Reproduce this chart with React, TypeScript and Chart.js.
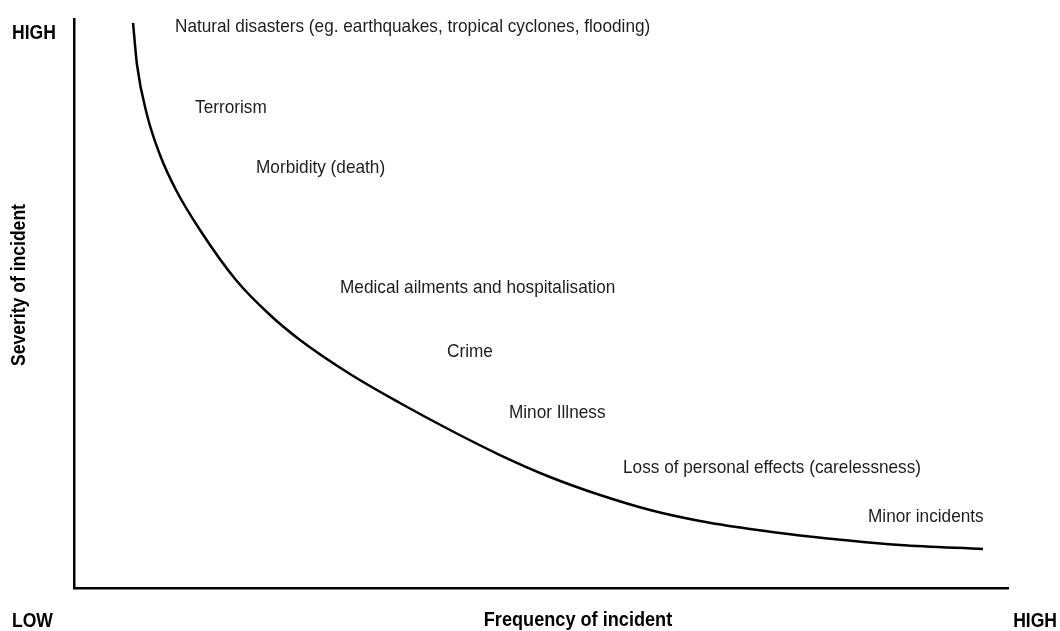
import React, { useEffect, useRef } from "react";
import { Chart, registerables } from "chart.js";

Chart.register(...registerables);

// Curve: frequency (x, 0-100) vs severity (y, 0-100)
const curveX = [6.32, 6.75, 7.82, 9.21, 10.92, 13.49, 17.34, 20.99, 24.2, 29.55, 34.9, 40.26, 45.61, 50.96, 56.32, 61.67, 67.02, 72.38, 77.73, 88.44, 97.32];
const curveY = [99.3, 91.92, 83.13, 76.1, 69.95, 62.92, 54.13, 47.98, 43.59, 37.61, 32.51, 27.77, 23.37, 19.51, 16.34, 13.71, 11.78, 10.37, 9.23, 7.56, 6.85];

// Annotations (data coordinates: left edge x, baseline y)
const labelText = [
  "Natural disasters (eg. earthquakes, tropical cyclones, flooding)",
  "Terrorism",
  "Morbidity (death)",
  "Medical ailments and hospitalisation",
  "Crime",
  "Minor Illness",
  "Loss of personal effects (carelessness)",
  "Minor incidents",
];
const labelX = [10.81, 12.96, 19.49, 28.48, 39.94, 46.57, 58.78, 85.01];
const labelY = [97.72, 83.48, 72.93, 51.85, 40.6, 29.88, 20.21, 11.6];

const xTitle = "Frequency of incident";
const yTitle = "Severity of incident";
const lowLabel = "LOW";
const highLabel = "HIGH";

const FONT = '"Liberation Sans", Arial, sans-serif';
const SQUEEZE = 0.9;

function drawText(ctx: CanvasRenderingContext2D, t: string, x: number, y: number, sx: number) {
  ctx.save();
  ctx.translate(x, y);
  ctx.scale(sx, 1);
  ctx.fillText(t, 0, 0);
  ctx.restore();
}

export default function App() {
  const ref = useRef<HTMLCanvasElement | null>(null);
  useEffect(() => {
    if (!ref.current) return;
    const textPlugin = {
      id: "textPlugin",
      afterDraw(chart: any) {
        const ctx = chart.ctx as CanvasRenderingContext2D;
        const xs = chart.scales.x;
        const ys = chart.scales.y;
        ctx.save();
        ctx.fillStyle = "#1e1e1e";
        ctx.textBaseline = "alphabetic";
        ctx.textAlign = "left";
        ctx.font = `18.5px ${FONT}`;
        labelText.forEach((t, i) => {
          drawText(ctx, t, xs.getPixelForValue(labelX[i]), ys.getPixelForValue(labelY[i]), 0.93);
        });
        ctx.fillStyle = "#000";
        ctx.font = `bold 19.5px ${FONT}`;
        ctx.textAlign = "left";
        drawText(ctx, highLabel, 12, 39, SQUEEZE);
        drawText(ctx, lowLabel, 12, 627, SQUEEZE);
        ctx.textAlign = "right";
        drawText(ctx, highLabel, 1057, 627, SQUEEZE);
        ctx.textAlign = "center";
        drawText(ctx, xTitle, 578, 626, 0.93);
        ctx.translate(25, 285);
        ctx.rotate(-Math.PI / 2);
        ctx.scale(SQUEEZE, 1);
        ctx.fillText(yTitle, 0, 0);
        ctx.restore();
      },
    };
    const chart = new Chart(ref.current, {
      type: "line",
      data: {
        datasets: [
          {
            data: curveX.map((x, i) => ({ x, y: curveY[i] })),
            borderColor: "#000",
            borderWidth: 2.5,
            pointRadius: 0,
            cubicInterpolationMode: "monotone",
            fill: false,
            clip: false as any,
          },
        ],
      },
      options: {
        animation: false,
        responsive: false,
        maintainAspectRatio: false,
        layout: { padding: { left: 74, top: 19, right: 52, bottom: 43 } },
        plugins: { legend: { display: false }, tooltip: { enabled: false } },
        scales: {
          x: {
            type: "linear",
            min: 0,
            max: 100,
            ticks: { display: false },
            grid: { display: false, drawTicks: false },
            border: { display: true, color: "#000", width: 2.5 },
          },
          y: {
            type: "linear",
            min: 0,
            max: 100,
            ticks: { display: false },
            grid: { display: false, drawTicks: false },
            border: { display: true, color: "#000", width: 2.5 },
          },
        },
      },
      plugins: [textPlugin],
    });
    return () => chart.destroy();
  }, []);
  return (
    <div style={{ position: "fixed", left: 0, top: 0, width: 1060, height: 631, background: "#fff" }}>
      <canvas ref={ref} width={1060} height={631} style={{ width: 1060, height: 631 }} />
    </div>
  );
}
